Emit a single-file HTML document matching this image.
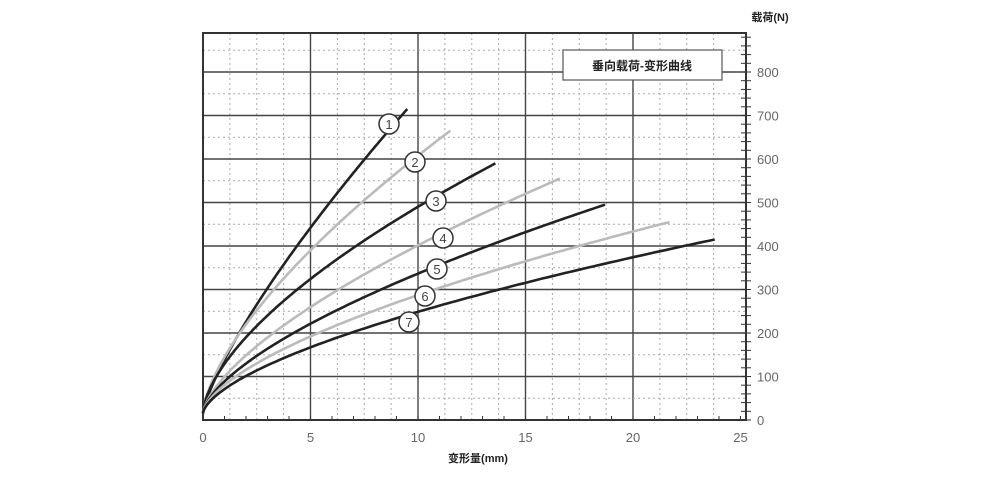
<!DOCTYPE html>
<html><head><meta charset="utf-8"><style>
body{margin:0;background:#fff}
svg text{font-family:"Liberation Sans","Noto Sans CJK SC",sans-serif}
</style></head><body>
<svg width="1000" height="480" xmlns="http://www.w3.org/2000/svg">
<rect width="1000" height="480" fill="#fff"/>
<g id="grid"></g>
<rect x="203" y="33" width="543" height="387" fill="none" stroke="#333" stroke-width="2"/>
<g id="curves"></g>
<rect x="563" y="50" width="159" height="30" fill="#fff" stroke="#555" stroke-width="1.2"/>
<text x="642" y="70" font-size="12" font-weight="bold" text-anchor="middle" fill="#222">垂向载荷-变形曲线</text>
<text x="770" y="21" font-size="11" font-weight="bold" text-anchor="middle" fill="#222">载荷(N)</text>
<text x="478" y="462" font-size="11" font-weight="bold" text-anchor="middle" fill="#222">变形量(mm)</text>
<g id="labels" font-size="13" fill="#555"></g>
</svg>
<script>
const ns="http://www.w3.org/2000/svg";
const X=x=>203+x*21.5, Y=p=>420-p*0.435;
function el(t,a,parent){const e=document.createElementNS(ns,t);for(const k in a)e.setAttribute(k,a[k]);document.getElementById(parent).appendChild(e);return e;}
for(let i=1;i<25/1.25;i++){const x=i*1.25;const solid=(x%5===0);
 el('line',{x1:X(x),x2:X(x),y1:33,y2:420,stroke:solid?'#444':'#aaa','stroke-width':solid?1.4:1,'stroke-dasharray':solid?'':'2,3'},'grid');}
for(let p=50;p<900;p+=50){const solid=(p%100===0);
 el('line',{x1:203,x2:746,y1:Y(p),y2:Y(p),stroke:solid?'#444':'#aaa','stroke-width':solid?1.4:1,'stroke-dasharray':solid?'':'2,3'},'grid');}
for(let p=0;p<=880;p+=20){el('line',{x1:741,x2:751,y1:Y(p),y2:Y(p),stroke:'#333','stroke-width':1},'grid');}
for(let i=0;i<=25;i++){el('line',{x1:X(i),x2:X(i),y1:416,y2:420,stroke:'#333'},'grid');}
for(let p=0;p<=800;p+=100){const t=el('text',{x:757,y:Y(p)+5,'font-size':13,fill:'#666'},'labels');t.textContent=p;}
for(let x=0;x<=25;x+=5){const t=el('text',{x:X(x),y:442,'font-size':13,fill:'#666','text-anchor':'middle'},'labels');t.textContent=x;}
const C=[[9.5,715,0.77,'#222'],[11.5,665,0.66,'#bbb'],[13.6,590,0.62,'#222'],[16.6,555,0.66,'#bbb'],[18.7,495,0.64,'#222'],[21.7,455,0.62,'#bbb'],[23.8,415,0.62,'#222']];
C.forEach(c=>{const b=c[2];let d='';
 for(let i=0;i<=160;i++){const x=c[0]*Math.pow(i/160,1.6);const p=15+(c[1]-15)*Math.pow(x/c[0],b);d+=(i?' L':'M')+X(x).toFixed(1)+' '+Y(p).toFixed(1);}
 el('path',{d:d,fill:'none',stroke:c[3],'stroke-width':2.6},'curves');});
const L=[[389,124],[415,162],[436,201],[443,238],[437,269],[425,296],[409,322]];
L.forEach((l,i)=>{el('circle',{cx:l[0],cy:l[1],r:10,fill:'#fff',stroke:'#333','stroke-width':1.5},'curves');
 const t=el('text',{x:l[0],y:l[1]+5,'font-size':13,'text-anchor':'middle',fill:'#444'},'curves');t.textContent=i+1;});
</script>
</body></html>
